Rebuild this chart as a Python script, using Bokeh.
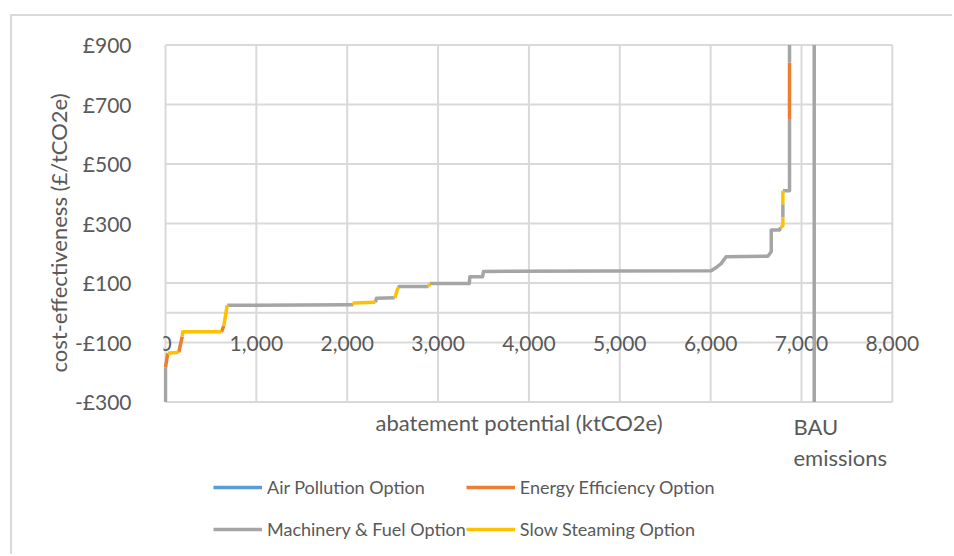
from bokeh.plotting import figure
from bokeh.models import (FixedTicker, Label, Legend, LegendItem, Range1d, Title)
from bokeh.embed import file_html
from bokeh.resources import INLINE

# ---------------- data ----------------
options = ["Air Pollution Option", "Energy Efficiency Option",
           "Machinery & Fuel Option", "Slow Steaming Option"]
option_colors = ["#5B9BD5", "#ED7D31", "#A5A5A5", "#FFC000"]

# vertices of the marginal abatement cost curve (cumulative ktCO2e, £/tCO2e)
curve_abatement = [0, 0, 25, 146, 184, 190, 616, 642, 679, 2068, 2075, 2310,
                   2322, 2523, 2532, 2560, 2571, 2895, 2910, 3343, 3350, 3490,
                   3500, 6006, 6060, 6115, 6170, 6629, 6667, 6667, 6758, 6770,
                   6795, 6795, 6795, 6795, 6868, 6868, 6868, 6868]
curve_cost = [-300, -184, -136, -133, -80, -64, -64, -44, 25, 27, 33, 35,
              49, 50, 58, 85, 88, 88, 98, 98, 121, 121,
              139, 141, 152, 165, 188, 190, 205, 278, 278, 287,
              292, 320, 365, 410, 410, 651, 841, 900]
# option index of the segment that starts at each vertex
segment_option = [2, 1, 3, 1, 3, 3, 1, 3, 2, 3, 3, 2,
                  2, 3, 3, 2, 2, 3, 2, 2, 2, 2,
                  2, 2, 2, 2, 2, 2, 2, 2, 2, 3,
                  3, 2, 3, 2, 2, 1, 2]

bau_emissions = 7140

x_ticks = [0, 1000, 2000, 3000, 4000, 5000, 6000, 7000, 8000]
x_tick_labels = ["0", "1,000", "2,000", "3,000", "4,000", "5,000", "6,000", "7,000", "8,000"]
y_ticks = [-300, -100, 100, 300, 500, 700, 900]
y_tick_labels = ["-£300", "-£100", "£100", "£300", "£500", "£700", "£900"]
x_min, x_max = 0, 8000
y_min, y_max = -300, 900

FONT = "Lato"
TXT = "#595959"
GRID = "#D9D9D9"

# ---------------- figure ----------------
# the frame also covers the area under the plot so that titles and legend
# stay inside it; gridlines are drawn only over the plot area
p = figure(width=942, height=540, output_backend="svg", toolbar_location=None,
           x_range=Range1d(-22, 8684), y_range=Range1d(-819.4, 905.0),
           min_border_left=151, min_border_right=0, min_border_top=27,
           min_border_bottom=0)
p.margin = (14, 0, 0, 10)
p.styles = {"border-top": "2px solid #D9D9D9", "border-left": "2px solid #D9D9D9"}
p.background_fill_color = "white"
p.border_fill_color = "white"
p.outline_line_color = None
p.xgrid.visible = False
p.ygrid.visible = False
p.xaxis.visible = False

# gridlines (plot area)
p.segment(x0=x_ticks, y0=[y_min] * len(x_ticks), x1=x_ticks, y1=[y_max] * len(x_ticks),
          line_color=GRID, line_width=2)
h_lines = y_ticks + [0]
p.segment(x0=[x_min] * len(h_lines), y0=h_lines, x1=[x_max] * len(h_lines), y1=h_lines,
          line_color=GRID, line_width=2)

# x tick labels, under the horizontal axis crossing at 0
p.text(x=x_ticks, y=[0] * len(x_ticks), text=x_tick_labels, y_offset=31,
       text_align="center", text_baseline="middle", text_font={"value": FONT},
       text_font_size="21px", text_color=TXT)

ya = p.yaxis[0]
ya.ticker = FixedTicker(ticks=y_ticks)
ya.major_label_overrides = {t: l for t, l in zip(y_ticks, y_tick_labels)}
ya.axis_line_color = None
ya.major_tick_line_color = None
ya.minor_tick_line_color = None
ya.major_label_standoff = 26
ya.major_label_text_font = FONT
ya.major_label_text_font_size = "21px"
ya.major_label_text_color = TXT

p.add_layout(Title(text="cost-effectiveness (£/tCO2e)", align="left", offset=184,
                   text_font=FONT, text_font_size="22px", text_font_style="normal",
                   text_color=TXT, standoff=0), "left")

# ---------------- curve ----------------
runs = {k: ([], []) for k in range(len(options))}
i = 0
n = len(segment_option)
while i < n:
    opt = segment_option[i]
    j = i
    while j + 1 < n and segment_option[j + 1] == opt:
        j += 1
    runs[opt][0].append(curve_abatement[i:j + 2])
    runs[opt][1].append(curve_cost[i:j + 2])
    i = j + 1

renderers = []
for k in range(len(options)):
    xs = runs[k][0] if runs[k][0] else [[]]
    ys = runs[k][1] if runs[k][1] else [[]]
    r = p.multi_line(xs=xs, ys=ys, line_color=option_colors[k],
                     line_width=3.5, line_join="round", line_cap="butt")
    renderers.append(r)

# BAU emissions line
p.segment(x0=[bau_emissions], y0=[y_min], x1=[bau_emissions], y1=[y_max],
          line_color="#A5A5A5", line_width=3.5)

# ---------------- texts ----------------
p.add_layout(Label(x=3891, y=-369, text="abatement potential (ktCO2e)",
                   text_align="center", text_baseline="middle",
                   text_font=FONT, text_font_size="22px", text_color=TXT))
p.add_layout(Label(x=6912, y=-383, text="BAU",
                   text_align="left", text_baseline="middle",
                   text_font=FONT, text_font_size="22px", text_color=TXT))
p.add_layout(Label(x=6912, y=-487, text="emissions",
                   text_align="left", text_baseline="middle",
                   text_font=FONT, text_font_size="22px", text_color=TXT))

# ---------------- legend ----------------
legend = Legend(items=[LegendItem(label=options[k], renderers=[renderers[k]])
                       for k in range(len(options))],
                orientation="horizontal", ncols=2,
                location=(50, 6), padding=0, margin=0, spacing=0,
                glyph_width=49, glyph_height=42, label_height=42,
                label_standoff=5, label_text_font=FONT,
                label_text_font_size="18px", label_text_color=TXT,
                border_line_alpha=0, background_fill_alpha=0)
p.add_layout(legend)

open("out.html", "w").write(file_html(p, INLINE))
